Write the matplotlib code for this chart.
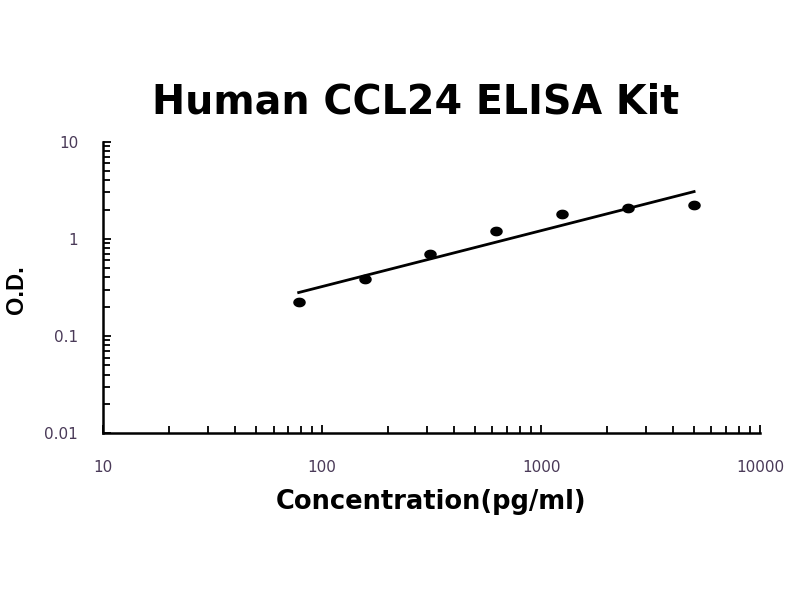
import numpy as np
import matplotlib
matplotlib.use("Agg")
import matplotlib.pyplot as plt
from matplotlib.path import Path
from matplotlib.ticker import LogLocator, FixedFormatter, FixedLocator

# ── data ──────────────────────────────────────────────────────────────────────
conc = [78.125, 156.25, 312.5, 625, 1250, 2500, 5000]
od   = [0.226, 0.387, 0.70, 1.20, 1.80, 2.07, 2.23]
fit_x = [78.125, 5000]
fit_y = [0.28, 3.06]

xtick_vals = [10, 100, 1000, 10000]
xtick_labels = ["10", "100", "1000", "10000"]
ytick_vals = [0.01, 0.1, 1, 10]
ytick_labels = ["0.01", "0.1", "1", "10"]

tick_color = "#4a3a58"

# slightly flattened dot, as in the (horizontally stretched) original
t = np.linspace(0, 2 * np.pi, 40)
dot = Path(np.column_stack([np.cos(t), 0.75 * np.sin(t)]), closed=True)

fig = plt.figure(figsize=(8, 6), dpi=100)
ax = fig.add_axes([0.129, 0.278, 0.821, 0.486])

ax.plot(fit_x, fit_y, color="black", lw=2.0, zorder=2)
ax.plot(conc, od, linestyle="none", marker=dot, color="black", ms=8, zorder=3)

ax.set_xscale("log")
ax.set_yscale("log")
ax.set_xlim(10, 10000)
ax.set_ylim(0.01, 10)

ax.xaxis.set_major_locator(FixedLocator(xtick_vals))
ax.xaxis.set_major_formatter(FixedFormatter(xtick_labels))
ax.yaxis.set_major_locator(FixedLocator(ytick_vals))
ax.yaxis.set_major_formatter(FixedFormatter(ytick_labels))
ax.xaxis.set_minor_locator(LogLocator(base=10, subs=np.arange(2, 10), numticks=20))
ax.yaxis.set_minor_locator(LogLocator(base=10, subs=np.arange(2, 10), numticks=20))
ax.xaxis.set_minor_formatter(plt.NullFormatter())
ax.yaxis.set_minor_formatter(plt.NullFormatter())

for side in ("top", "right"):
    ax.spines[side].set_visible(False)
for side in ("left", "bottom"):
    ax.spines[side].set_linewidth(1.8)

ax.tick_params(which="both", direction="in", width=1.3, colors="black")
ax.tick_params(which="major", length=6)
ax.tick_params(which="minor", length=5)
ax.tick_params(axis="x", which="major", pad=19, labelsize=11, labelcolor=tick_color)
ax.tick_params(axis="y", which="major", pad=18, labelsize=11, labelcolor=tick_color)
for lab in ax.get_xticklabels() + ax.get_yticklabels():
    lab.set_family("DejaVu Sans")

fig.text(0.52, 0.829, "Human CCL24 ELISA Kit", ha="center", va="center",
         fontsize=28.5, fontweight="bold", family="DejaVu Sans")
fig.text(0.539, 0.163, "Concentration(pg/ml)", ha="center", va="center",
         fontsize=18.5, fontweight="bold", family="DejaVu Sans")
fig.text(0.02, 0.517, "O.D.", ha="center", va="center", rotation=90,
         fontsize=17, fontweight="bold", family="Liberation Sans")

fig.savefig("out.png", dpi=100, facecolor="white")
